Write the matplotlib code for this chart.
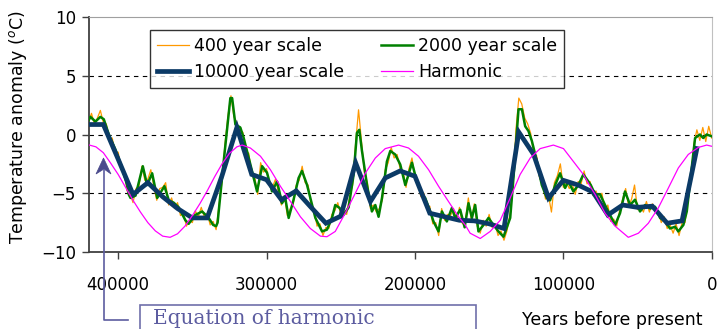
import numpy as np
import matplotlib
matplotlib.use("Agg")
import matplotlib.pyplot as plt
from matplotlib.lines import Line2D
from matplotlib.patches import Rectangle, Polygon

# ---------------- DATA ---------------- #
# 10000 year scale, one value every 10000 years
navy_years = [420000, 410000, 400000, 390000, 380000, 370000, 360000, 350000, 340000,
              330000, 320000, 310000, 300000, 290000, 280000, 270000, 260000, 250000,
              240000, 230000, 220000, 210000, 200000, 190000, 180000, 170000, 160000,
              150000, 140000, 130000, 120000, 110000, 100000, 90000, 80000, 70000,
              60000, 50000, 40000, 30000, 20000, 10000]
navy_vals = [0.85, 0.85, -2.1, -5.1, -4.1, -5.3, -6.3, -7.1, -7.1,
             -3.5, 0.6, -3.4, -3.85, -5.55, -4.8, -6.2, -7.55, -6.95,
             -2.4, -5.7, -3.7, -3.1, -3.55, -6.7, -7.0, -7.3, -7.35,
             -7.6, -8.0, 0.2, -1.7, -5.4, -3.9, -4.3, -4.9, -6.85,
             -6.0, -6.2, -6.1, -7.55, -7.35, -1.2]

# 2000 year scale
green_years = [420000, 418700, 415300, 412000, 409700, 406300, 401800, 397300, 394000,
               392900, 391700, 388300, 383400, 380500, 377100, 373700, 368800, 365900,
               362600, 359200, 354700, 352500, 348000, 343400, 339000, 336000, 334000,
               333000, 328900, 324400, 323200, 321000, 317700, 315400, 310900, 306400,
               303000, 299700, 296300, 292900, 289600, 287400, 285100, 281800, 278400,
               276100, 272700, 267100, 262600, 259300, 255900, 253700, 250800, 248100,
               244700, 241300, 239100, 237500, 235700, 232300, 229000, 226700, 224500,
               222200, 218900, 216600, 213300, 209900, 206500, 204300, 202000, 198700,
               195300, 193100, 189700, 187500, 184100, 181800, 178500, 175100, 172900,
               169500, 166500, 163900, 161600, 159400, 157200, 153800, 150400, 147100,
               143700, 140300, 135800, 133600, 130200, 127900, 125700, 123500, 121200,
               117800, 114500, 111100, 108900, 105500, 102200, 98800, 96600, 93200,
               89800, 86500, 83100, 81500, 78600, 75200, 71900, 68500, 65100,
               61800, 58400, 55000, 51700, 48300, 44900, 41500, 38200, 34800,
               31400, 28100, 24700, 22500, 19100, 16800, 13500, 11200, 7900,
               5700, 3400, 0]
green_vals = [1.2, 1.5, 1.1, 1.5, 1.3, 0.0, -1.3, -2.85, -4.3,
              -5.1, -5.4, -5.2, -2.7, -4.3, -3.3, -5.4, -4.4, -5.6,
              -5.8, -6.2, -7.3, -7.6, -6.85, -6.55, -7.1, -7.7, -7.8,
              -7.5, -2.3, 3.1, 3.1, 0.85, 0.6, -0.3, -2.55, -4.85,
              -2.7, -3.25, -4.85, -4.0, -5.85, -5.4, -7.1, -5.55, -3.7,
              -3.1, -4.3, -7.1, -8.25, -8.1, -7.1, -6.0, -6.25, -6.85,
              -6.2, -3.4, 0.14, 0.4, -1.4, -4.3, -6.55, -6.0, -7.0,
              -5.4, -2.3, -1.4, -1.7, -2.55, -4.3, -3.4, -2.4, -4.0,
              -5.1, -5.4, -6.55, -7.4, -8.25, -6.55, -7.4, -6.25, -7.1,
              -6.4, -7.9, -5.85, -7.1, -6.0, -8.25, -7.7, -7.1, -7.7,
              -8.25, -8.7, -7.1, -3.7, 2.15, 2.15, 0.7, 0.3, -0.55,
              -2.3, -4.3, -5.4, -5.6, -4.3, -3.3, -4.55, -4.0, -4.85,
              -4.3, -3.4, -4.0, -4.3, -5.1, -5.1, -6.0, -6.85, -7.7,
              -6.7, -4.85, -6.0, -5.55, -6.55, -6.0, -6.3, -6.15, -7.1,
              -7.4, -8.0, -7.85, -8.25, -7.7, -6.55, -2.85, -0.3, 0.0,
              -0.3, 0.0, -0.15]

# 400 year scale, one value every 2000 years from 420000 down to 0
orange_years = list(range(420000, -1, -2000))
orange_vals = [1.0, 1.8, 0.9, 1.4, 2.05, 1.0, 0.9, -0.4, -0.3, -1.6,
               -1.5, -3.0, -3.0, -4.8, -5.0, -5.8, -4.6, -4.4, -2.7, -3.9,
               -3.8, -3.0, -4.4, -5.6, -4.6, -4.5, -4.1, -6.0, -5.4, -6.3,
               -5.8, -6.9, -6.7, -7.8, -7.3, -7.5, -6.5, -7.0, -6.2, -7.0,
               -6.7, -7.7, -7.4, -8.1, -6.0, -4.0, -0.8, 1.6, 3.3, 1.5,
               1.0, 0.3, 0.2, -1.4, -1.6, -3.4, -3.6, -5.1, -2.4, -3.2,
               -2.9, -4.4, -4.5, -3.8, -4.9, -6.0, -5.2, -6.9, -6.3, -5.9,
               -4.3, -3.9, -2.7, -4.1, -4.3, -6.0, -6.3, -7.8, -7.6, -8.6,
               -7.9, -8.0, -6.8, -6.5, -5.8, -6.8, -6.5, -6.8, -5.3, -4.3,
               -0.8, 2.1, -0.6, -3.3, -4.1, -6.3, -6.0, -6.6, -6.3, -5.6,
               -3.0, -2.4, -1.1, -2.0, -1.7, -2.9, -3.1, -4.5, -2.9, -2.0,
               -3.6, -3.9, -5.3, -5.0, -6.2, -6.1, -7.6, -7.5, -8.6, -6.3,
               -7.3, -6.8, -6.9, -6.3, -7.3, -6.2, -7.6, -7.3, -5.4, -7.3,
               -5.9, -7.8, -8.4, -7.3, -7.8, -6.8, -7.9, -7.6, -8.6, -8.2,
               -9.0, -8.2, -6.8, -4.7, 0.3, 3.1, 2.6, 1.4, 0.9, 0.1,
               -1.6, -1.8, -3.7, -4.2, -5.5, -5.2, -6.6, -4.1, -3.5, -2.5,
               -4.5, -4.0, -4.6, -4.2, -5.1, -4.0, -4.2, -3.1, -4.2, -4.0,
               -5.2, -4.8, -5.5, -5.0, -6.4, -6.0, -7.4, -7.2, -7.8, -6.4,
               -5.5, -4.6, -6.1, -5.5, -4.3, -6.4, -6.1, -6.6, -5.7, -6.6,
               -5.9, -6.6, -6.5, -7.5, -7.0, -8.0, -7.7, -8.4, -7.6, -8.6,
               -7.5, -7.5, -5.3, -3.8, -0.8, 0.4, -0.5, 0.6, -0.6, 0.7,
               -0.3]

# Harmonic
harm_years = [420000, 415000, 410000, 405000, 400000, 395000, 390000, 385000, 380000,
              375000, 370000, 365000, 360000, 355000, 350000, 345000, 340000, 335000,
              330000, 325000, 320000, 316500, 310900, 304100, 297400, 290700, 283900,
              277200, 270500, 263700, 259300, 253700, 247000, 240200, 233500, 226700,
              220000, 211000, 204300, 197600, 190800, 184100, 177400, 170600, 166100,
              162800, 156000, 149300, 142500, 135800, 129100, 122300, 115600, 106700,
              99900, 93200, 86500, 82000, 78600, 71900, 65100, 56200, 49400,
              42700, 36000, 29200, 22500, 15800, 9000, 3400, 0]
harm_vals = [-0.88, -1.05, -1.55, -2.45, -3.4, -4.5, -5.6, -6.6, -7.5,
             -8.2, -8.65, -8.75, -8.45, -7.8, -6.9, -5.9, -4.8, -3.6,
             -2.5, -1.6, -1.05, -0.9, -1.15, -1.85, -3.0, -4.4, -5.7,
             -7.0, -8.0, -8.65, -8.7, -8.25, -6.7, -5.0, -3.3, -2.0,
             -1.2, -0.9, -1.15, -1.85, -3.0, -4.4, -5.7, -7.0, -7.7,
             -8.4, -8.85, -8.25, -7.3, -5.4, -3.4, -2.0, -1.2, -0.9,
             -1.2, -2.3, -3.4, -4.4, -5.1, -6.7, -7.8, -8.75, -8.4,
             -7.55, -6.25, -4.55, -2.85, -1.7, -1.1, -0.9, -1.0]

y_ticks = [-10, -5, 0, 5, 10]
x_ticks = [400000, 300000, 200000, 100000, 0]

# ---------------- PLOT ---------------- #
W, H = 717, 329
fig = plt.figure(figsize=(W / 100, H / 100), dpi=100)
ax = fig.add_axes([88.5 / W, 1 - 252 / H, 623.2 / W, 235 / H])

for y in [-5, 0, 5]:
    ax.axhline(y, color="black", lw=0.8, ls=(0, (4, 4)), zorder=1)

l400, = ax.plot(orange_years, orange_vals, color="#FF9900", lw=0.9, zorder=2)
l2000, = ax.plot(green_years, green_vals, color="#008000", lw=1.8, zorder=3)
l10000, = ax.plot(navy_years, navy_vals, color="#0B3A66", lw=3.4, zorder=4,
                  solid_joinstyle="miter")
lharm, = ax.plot(harm_years, harm_vals, color="#FF00FF", lw=0.9, zorder=5)

ax.set_xlim(420000, 0)
ax.set_ylim(-10, 10)
ax.set_xticks(x_ticks)
ax.set_xticklabels([str(v) for v in x_ticks])
ax.set_yticks(y_ticks)
ax.tick_params(axis="x", direction="out", length=5, width=1, labelsize=12, pad=12,
               color="#404040")
ax.tick_params(axis="y", direction="out", length=5, width=1, labelsize=12, pad=4,
               color="#404040")

ax.spines["left"].set_color("#404040")
ax.spines["bottom"].set_color("#404040")
ax.spines["left"].set_linewidth(1.3)
ax.spines["bottom"].set_linewidth(1.3)
ax.spines["top"].set_color("#A0A0A0")
ax.spines["right"].set_color("#C0C0C0")

ax.set_ylabel("Temperature anomaly ($^o$C)", fontsize=12.5)
ax.yaxis.set_label_coords(-0.095, 0.53)

fig.text(612 / W, 1 - 320 / H, "Years before present", fontsize=12.5,
         ha="center", va="center")

leg = ax.legend([l400, l10000, l2000, lharm],
                ["400 year scale", "10000 year scale", "2000 year scale", "Harmonic"],
                ncol=2, loc="upper left", bbox_to_anchor=(0.0987, 0.945),
                fontsize=12.5, frameon=True, fancybox=False, edgecolor="black",
                handlelength=1.85, handletextpad=0.3, columnspacing=2.1,
                borderpad=0.4, labelspacing=0.45, borderaxespad=0)
leg.get_frame().set_linewidth(1.0)

# annotation box with elbow arrow
def fxy(x, y):
    return (x / W, 1 - y / H)

acol = "#5C5CA0"
fig.add_artist(Rectangle(fxy(140, 345), 336 / W, 40 / H, fill=False,
                         edgecolor="#7070AA", lw=1.2))
fig.text(153 / W, 1 - 324 / H, "Equation of harmonic", fontsize=14.5,
         family="DejaVu Serif", color=acol, ha="left", va="baseline")
xs, ys = zip(fxy(128, 320), fxy(104, 320), fxy(104, 170))
fig.add_artist(Line2D(xs, ys, color=acol, lw=1.2))
fig.add_artist(Polygon([fxy(103.5, 158), fxy(96, 174), fxy(104, 169), fxy(111, 174)],
                       closed=True, facecolor="#4A4A8C", edgecolor="#4A4A8C", lw=0.5))

fig.savefig("out.png", dpi=100)
